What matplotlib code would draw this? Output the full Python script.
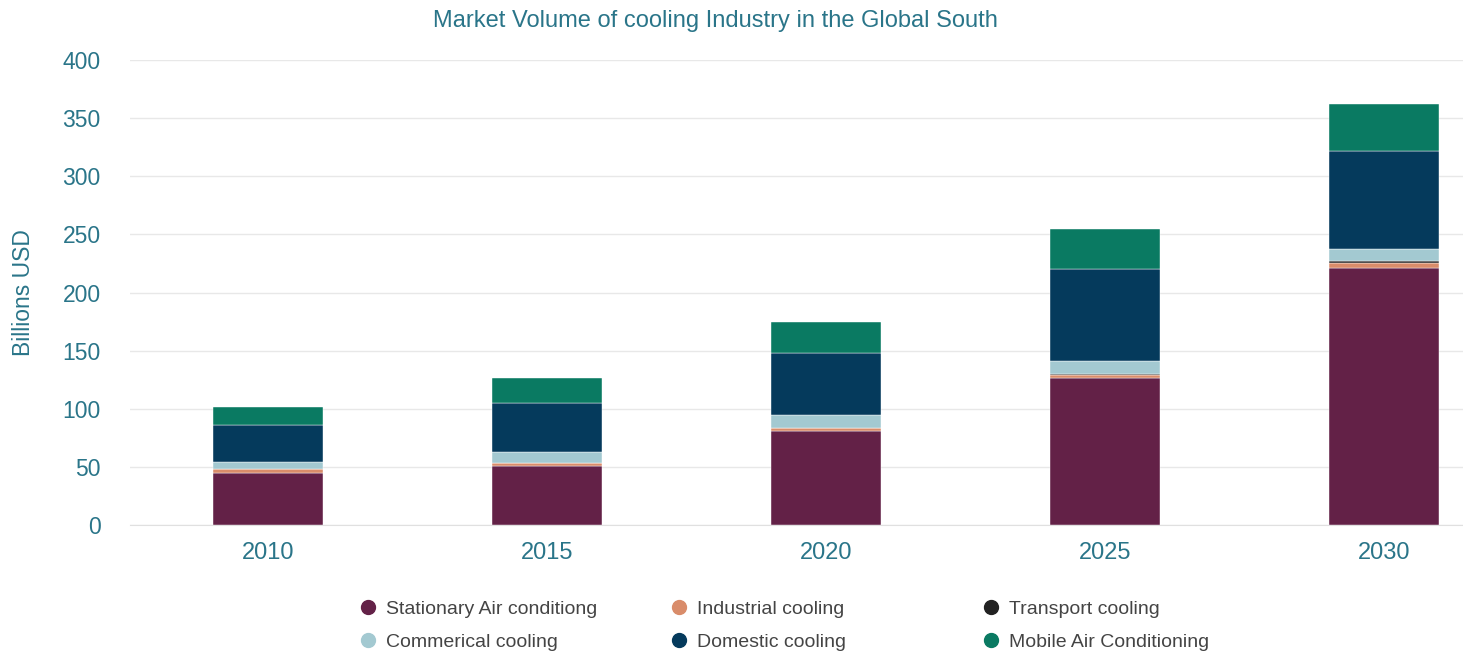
import matplotlib
matplotlib.use("Agg")
import matplotlib.pyplot as plt
from matplotlib.lines import Line2D
import numpy as np

plt.rcParams['font.family'] = ['Liberation Sans', 'DejaVu Sans']

years = ["2010", "2015", "2020", "2025", "2030"]
series_names = ["Stationary Air conditiong", "Industrial cooling", "Transport cooling",
                "Commerical cooling", "Domestic cooling", "Mobile Air Conditioning"]
stationary = [44.5, 50.8, 80.9, 126.7, 220.8]
industrial = [3.7, 2.2, 2.3, 2.3, 4.3]
transport = [0.3, 0.4, 0.5, 0.6, 2.0]
commercial = [6.0, 9.3, 11.0, 11.6, 10.1]
domestic = [31.5, 42.2, 53.4, 79.2, 84.5]
mobile = [15.5, 21.5, 26.6, 34.4, 40.3]
colors = ["#632147", "#d98c6a", "#222222", "#a3c9d1", "#053a5c", "#0a7a62"]
yticks = [0, 50, 100, 150, 200, 250, 300, 350, 400]

teal = "#2a7589"
W, H = 1463, 665
fig = plt.figure(figsize=(W / 100, H / 100), dpi=100)
left, right = 130 / W, 1.0
bottom, top = (H - 525) / H, (H - 60) / H
ax = fig.add_axes([left, bottom, right - left, top - bottom])

x = np.arange(len(years))
data = [stationary, industrial, transport, commercial, domestic, mobile]
base = np.zeros(len(years))
for vals, c, name in zip(data, colors, series_names):
    ax.bar(x, vals, bottom=base, width=0.395, color=c, label=name, zorder=3,
           edgecolor="white", linewidth=0.3)
    base += np.array(vals)

ax.set_ylim(0, 400)
spacing = 279.0
ax_w = (1463 - 130)
rng = ax_w / spacing
x0 = -(268 - 130) / spacing
ax.set_xlim(x0, x0 + rng)
ax.set_yticks(yticks)
ax.set_yticklabels([str(v) for v in yticks])
ax.set_xticks(x)
ax.set_xticklabels(years)
ax.grid(axis="y", color="#e8e8e8", linewidth=1, zorder=0)
for s in ["top", "right", "left"]:
    ax.spines[s].set_visible(False)
ax.spines["bottom"].set_color("#e0e0e0")
ax.tick_params(axis="both", length=0, colors=teal, labelsize=16.5)
ax.tick_params(axis="x", pad=12, labelsize=17)
ax.tick_params(axis="y", pad=21)
ax.set_ylabel("Billions USD", color=teal, fontsize=16.5)
ax.yaxis.set_label_coords(-(130 - 35) / ax_w, 0.5)

fig.text(715 / W, 1 - 21 / H, "Market Volume of cooling Industry in the Global South",
         ha="center", va="center", color=teal, fontsize=17)

# legend: three columns, two rows
cols = [(0, 3), (1, 4), (2, 5)]
col_x = [358, 669, 981]
for (a, b), cx in zip(cols, col_x):
    handles = [Line2D([], [], marker="o", linestyle="none", markersize=10,
                      markerfacecolor=colors[i], markeredgecolor=colors[i]) for i in (a, b)]
    leg = fig.legend(handles, [series_names[a], series_names[b]], loc="upper left",
                     bbox_to_anchor=(cx / W, 1 - 600 / H), frameon=False, fontsize=14,
                     handletextpad=0.45, labelspacing=0.82, handlelength=1.0,
                     borderaxespad=0, borderpad=0)
    for t in leg.get_texts():
        t.set_color("#444444")

fig.savefig("out.png", dpi=100)
